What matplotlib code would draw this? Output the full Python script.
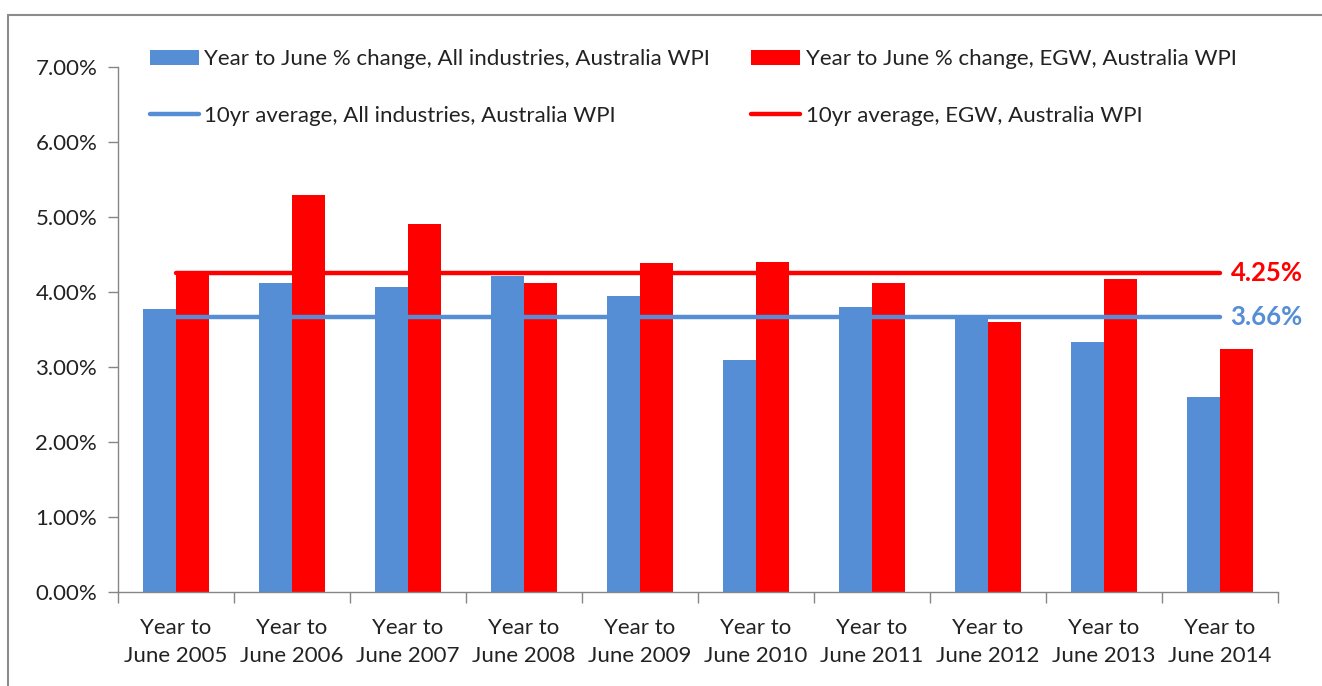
import numpy as np
import matplotlib
matplotlib.use("Agg")
import matplotlib.pyplot as plt
from matplotlib.patches import Rectangle

years = ["2005", "2006", "2007", "2008", "2009", "2010", "2011", "2012", "2013", "2014"]
all_industries = [3.77, 4.11, 4.06, 4.21, 3.94, 3.09, 3.79, 3.67, 3.33, 2.60]
egw = [4.26, 5.29, 4.90, 4.12, 4.38, 4.40, 4.11, 3.59, 4.17, 3.24]
avg_all = 3.66
avg_egw = 4.25

BLUE = "#558ED5"
RED = "#FF0000"
AXIS_GREY = "#868686"
TXT = "#222222"
FS = 16

plt.rcParams["font.family"] = ["Lato", "DejaVu Sans"]

fig = plt.figure(figsize=(13.22, 6.86), dpi=100)
ax = fig.add_axes([118 / 1322, 1 - 591.7 / 686, (1278 - 118) / 1322, (591.7 - 66.7) / 686])

x = np.arange(len(years))
w = 0.285
b_all = ax.bar(x - w / 2, all_industries, width=w, color=BLUE, zorder=2)
b_egw = ax.bar(x + w / 2, egw, width=w, color=RED, zorder=2)
l_all, = ax.plot(x, [avg_all] * len(x), color=BLUE, lw=3.2, solid_capstyle="round", zorder=3)
l_egw, = ax.plot(x, [avg_egw] * len(x), color=RED, lw=3.2, solid_capstyle="round", zorder=3)

ax.text(x[-1] + 0.09, avg_egw, f"{avg_egw:.2f}%", color=RED, fontsize=18.5,
        fontweight="bold", va="center", ha="left")
ax.text(x[-1] + 0.09, avg_all, f"{avg_all:.2f}%", color=BLUE, fontsize=18.5,
        fontweight="bold", va="center", ha="left")

ax.set_xlim(-0.5, len(years) - 0.5)
ax.set_ylim(0, 7)
ax.set_yticks(np.arange(0, 8, 1))
ax.set_yticklabels([f"{v:.2f}%" for v in np.arange(0, 8, 1)], fontsize=FS, color=TXT)

ax.set_xticks(np.arange(-0.5, len(years), 1))
ax.set_xticklabels([])
ax.set_xticks(x, minor=True)
ax.set_xticklabels([f"Year to\nJune {y}" for y in years], minor=True,
                   fontsize=FS, color=TXT, linespacing=1.5)
ax.tick_params(axis="x", which="major", length=8, color=AXIS_GREY, width=1)
ax.tick_params(axis="x", which="minor", length=0, pad=19)
ax.tick_params(axis="y", length=7, color=AXIS_GREY, width=1, pad=8)

for side in ["top", "right"]:
    ax.spines[side].set_visible(False)
for side in ["left", "bottom"]:
    ax.spines[side].set_color(AXIS_GREY)
    ax.spines[side].set_linewidth(1)

leg = fig.legend([b_all, l_all, b_egw, l_egw],
                 ["Year to June % change, All industries, Australia WPI",
                  "10yr average, All industries, Australia WPI",
                  "Year to June % change, EGW, Australia WPI",
                  "10yr average, EGW, Australia WPI"],
                 ncol=2, loc="upper left", bbox_to_anchor=(150 / 1322, 1 - 49 / 686),
                 frameon=False, fontsize=FS, handlelength=2.2, handleheight=0.65,
                 handletextpad=0.25, labelspacing=1.65, columnspacing=1.85,
                 borderaxespad=0, borderpad=0)
for t in leg.get_texts():
    t.set_color(TXT)

# chart frame (only top and left edges visible in the crop)
fig.patches.append(Rectangle((8 / 1322, -0.1), 1.2, 1 - 15 / 686 + 0.1,
                             transform=fig.transFigure, fill=False,
                             edgecolor="#8c8c8c", lw=1.5))

fig.savefig("out.png", dpi=100)
